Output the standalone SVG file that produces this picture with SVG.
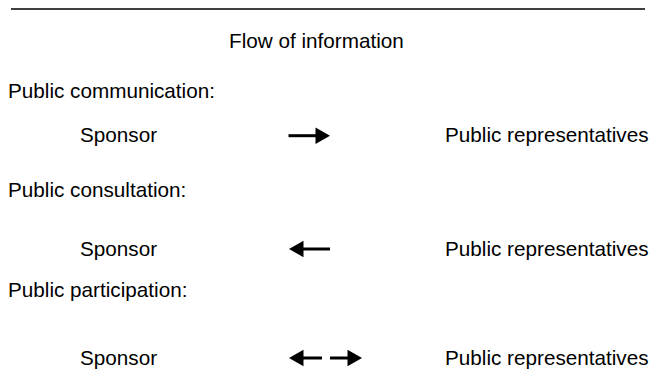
<svg xmlns="http://www.w3.org/2000/svg" width="652" height="387" viewBox="0 0 652 387">
<style>
text{font-family:"Liberation Sans",Arial,sans-serif;font-size:20.7px;fill:#000}
.c{stroke:#000;stroke-width:3;fill:none}
.h{fill:#000}
</style>
<rect width="652" height="387" fill="#fff"/>
<line x1="11" y1="9" x2="645" y2="9" stroke="#000" stroke-width="1.5"/>
<g id="title"><text x="229" y="48">Flow of information</text></g>
<g id="row1">
<text x="8" y="98">Public communication:</text>
<g id="sponsor1"><text x="80" y="142">Sponsor</text></g>
<g id="public1"><text x="445" y="142">Public representatives</text></g>
</g>
<g id="row2">
<text x="8" y="197">Public consultation:</text>
<g id="sponsor2"><text x="80" y="256">Sponsor</text></g>
<g id="public2"><text x="445" y="256">Public representatives</text></g>
</g>
<g id="row3">
<text x="8" y="297">Public participation:</text>
<g id="sponsor3"><text x="80" y="365">Sponsor</text></g>
<g id="public3"><text x="445" y="365">Public representatives</text></g>
</g>
<g id="connectors">
<line class="c" x1="288.5" y1="135.7" x2="318" y2="135.7"/>
<polygon class="h" points="315.5,127.5 330,135.7 315.5,144"/>
<line class="c" x1="301" y1="249" x2="330" y2="249"/>
<polygon class="h" points="303.5,240.8 289,249 303.5,257.2"/>
<line class="c" x1="301" y1="358" x2="322" y2="358"/>
<polygon class="h" points="303.5,349.8 289,358 303.5,366.2"/>
<line class="c" x1="330" y1="358" x2="350" y2="358"/>
<polygon class="h" points="347.5,349.8 362,358 347.5,366.2"/>
</g>
</svg>
